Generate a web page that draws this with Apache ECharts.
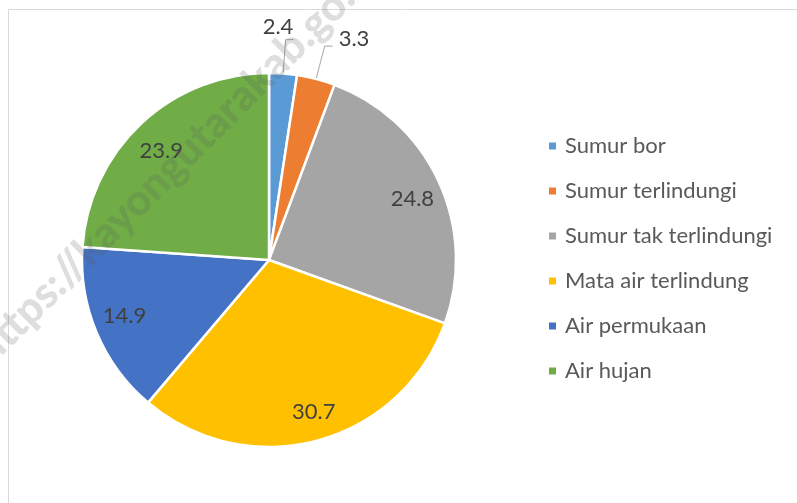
<!DOCTYPE html>
<html>
<head>
<meta charset="utf-8">
<script src="https://cdn.jsdelivr.net/npm/echarts@6/dist/echarts.min.js"></script>
<style>
  html, body { margin: 0; padding: 0; background: #fff; }
  #chart { width: 797px; height: 503px; }
</style>
</head>
<body>
<div id="chart"></div>
<script>
    // sumber air minum (persen)
    var categories = ['Sumur bor', 'Sumur terlindungi', 'Sumur tak terlindungi',
                      'Mata air terlindung', 'Air permukaan', 'Air hujan'];
    var values = [2.4, 3.3, 24.8, 30.7, 14.9, 23.9];
    var colors = ['#5B9BD5', '#ED7D31', '#A5A5A5', '#FFC000', '#4472C4', '#70AD47'];

    var FONT = 'Lato, "Open Sans", sans-serif';
    var CENTER = [269, 260];
    var R = 187;

    // irisan kecil diberi label di luar, sisanya di dalam
    var smallIdx = [0, 1];

    // geser sedikit label dalam supaya mirip posisi "best fit" Excel
    var innerNudge = {
        2: { dx: 0, dy: 5 },
        3: { dx: 4, dy: -1 },
        4: { dx: 1, dy: -5 },
        5: { dx: 0, dy: 6 }
    };

    var mainData = [];
    var overlayData = [];
    categories.forEach(function (name, i) {
        var isSmall = smallIdx.indexOf(i) >= 0;
        mainData.push({
            name: name,
            value: values[i],
            itemStyle: { color: colors[i] },
            label: { show: isSmall },
            labelLine: { show: isSmall }
        });
        overlayData.push({
            name: name,
            value: values[i],
            label: { show: !isSmall }
        });
    });

    var chart = echarts.init(document.getElementById('chart'), null, { renderer: 'canvas' });

    var option = {
        animation: false,
        backgroundColor: '#fff',
        color: colors,
        legend: {
            orient: 'vertical',
            left: 542,
            top: 130,
            itemWidth: 9,
            itemHeight: 9,
            itemGap: 23,
            icon: 'rect',
            selectedMode: false,
            data: categories,
            textStyle: {
                fontFamily: FONT,
                fontSize: 22,
                lineHeight: 22,
                color: '#595959',
                padding: [0, 0, 0, 3]
            }
        },
        graphic: [
            {
                type: 'rect',
                silent: true,
                shape: { x: 8.5, y: 9.5, width: 1000, height: 1000 },
                style: { fill: 'none', stroke: '#d9d9d9', lineWidth: 1 },
                z: 0
            },
            {
                type: 'text',
                silent: true,
                x: -3,
                y: 372,
                rotation: Math.PI / 4,
                style: {
                    text: 'https://kayongutarakab.go.id',
                    font: '900 43px ' + FONT,
                    fill: 'rgba(90,90,90,0.2)',
                    textAlign: 'left',
                    textVerticalAlign: 'bottom'
                },
                z: 100
            }
        ],
        series: [
            {
                name: 'main',
                type: 'pie',
                center: CENTER,
                radius: R,
                startAngle: 90,
                clockwise: true,
                avoidLabelOverlap: false,
                itemStyle: { borderColor: '#fff', borderWidth: 2.5 },
                label: {
                    position: 'outside',
                    fontFamily: FONT,
                    fontSize: 22,
                    color: '#404040',
                    distanceToLabelLine: 3,
                    formatter: function (p) { return p.value.toFixed(1); }
                },
                labelLine: {
                    length: 34,
                    length2: 8,
                    lineStyle: { color: '#a6a6a6', width: 1 }
                },
                labelLayout: function (p) {
                    if (p.dataIndex === 0) {
                        return { dx: -34, dy: -13 };
                    }
                    if (p.dataIndex === 1) {
                        return { dx: 3, dy: -7 };
                    }
                },
                emphasis: { disabled: true },
                data: mainData
            },
            {
                name: 'labels',
                type: 'pie',
                center: CENTER,
                radius: [123, R],
                startAngle: 90,
                clockwise: true,
                silent: true,
                avoidLabelOverlap: false,
                itemStyle: { color: 'rgba(0,0,0,0)', borderWidth: 0 },
                label: {
                    position: 'inside',
                    fontFamily: FONT,
                    fontSize: 22,
                    color: '#404040',
                    formatter: function (p) { return p.value.toFixed(1); }
                },
                labelLine: { show: false },
                labelLayout: function (p) {
                    return innerNudge[p.dataIndex] || {};
                },
                emphasis: { disabled: true },
                data: overlayData
            }
        ]
    };

    chart.setOption(option);
</script>
</body>
</html>
